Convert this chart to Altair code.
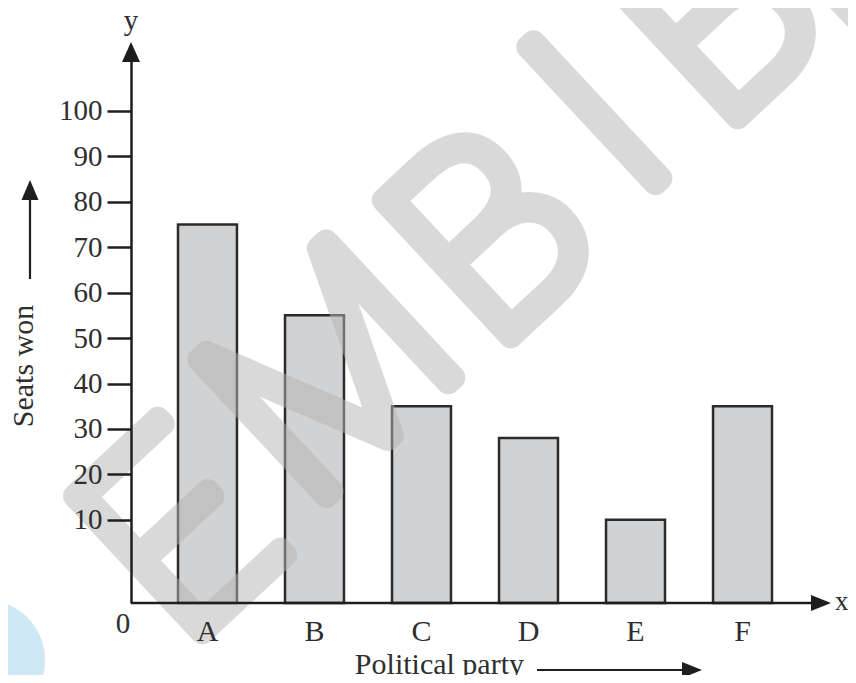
import altair as alt
import pandas as pd

# ---- data ----
parties = ["A", "B", "C", "D", "E", "F"]
seats = [75, 55, 35, 28, 10, 35]
y_ticks = [10, 20, 30, 40, 50, 60, 70, 80, 90, 100]
y_min, y_max = -8.3, 114.5

# watermark letters (decoration only)
wm_letters = ["E", "M", "B", "I", "B", "E"]
wm_x = [53, 205, 365, 473, 592, 705]
wm_y = [496, 334, 197, 78, -22, -120]

df = pd.DataFrame({"party": parties, "seats": seats})
wm = pd.DataFrame({"ch": wm_letters, "px": wm_x, "py": wm_y})
one = pd.DataFrame({"a": [0]})

W, H = 700, 558
FONT = "Liberation Serif"
TXT = "#2e2e2e"
LINE = "#1e1e1e"

xscale = alt.Scale(domain=parties, range=[47, 641], paddingInner=0.449, paddingOuter=0)
yscale = alt.Scale(domain=[y_min, y_max], zero=False, nice=False)

blob = alt.Chart(one).mark_point(
    shape="circle", filled=True, size=14400, color="#cfe8f6", opacity=1, clip=False
).encode(x=alt.value(-146), y=alt.value(615))

bars = alt.Chart(df).mark_bar(
    fill="#d1d2d4", stroke="#2b2b2b", strokeWidth=2.5
).encode(
    x=alt.X("party:N", scale=xscale, sort=parties,
            axis=alt.Axis(title=None, domain=False, ticks=False, tickSize=0, labelAngle=0,
                          labelFont=FONT, labelFontSize=30, labelColor=TXT,
                          labelPadding=13, zindex=1)),
    y=alt.Y("seats:Q", scale=yscale,
            axis=alt.Axis(values=y_ticks, title=None, grid=False,
                          domainColor=LINE, domainWidth=2.5,
                          tickColor=LINE, tickWidth=2.5, tickSize=24,
                          labelFont=FONT, labelFontSize=29, labelColor=TXT,
                          labelPadding=5, zindex=1)),
    y2=alt.datum(y_min),
)

watermark = alt.Chart(wm).mark_text(
    font="Roboto", fontWeight=100, fontSize=262,
    angle=317, align="center", baseline="middle",
    fill="#b4b4b4", stroke="#b4b4b4", strokeWidth=24,
    strokeJoin="round", strokeCap="round", opacity=0.5, clip=False
).encode(
    x=alt.X("px:Q", scale=None),
    y=alt.Y("py:Q", scale=None),
    text="ch:N",
)

x_axis_line = alt.Chart(one).mark_rule(color=LINE, strokeWidth=2.5).encode(
    y=alt.datum(y_min), x=alt.value(0), x2=alt.value(692)
)

x_head = alt.Chart(one).mark_point(
    shape="M-1,-0.8L1,0L-1,0.8Z", filled=True, size=400, color=LINE, opacity=1, clip=False
).encode(x=alt.value(690), y=alt.value(H))

y_head = alt.Chart(one).mark_point(
    shape="M-0.9,1L0,-1L0.9,1Z", filled=True, size=400, color=LINE, opacity=1, clip=False
).encode(x=alt.value(0), y=alt.value(7))

# arrow next to "Seats won"
ys_line = alt.Chart(one).mark_rule(color=LINE, strokeWidth=2.2, clip=False).encode(
    x=alt.value(-101), y=alt.value(234), y2=alt.value(150)
)
ys_head = alt.Chart(one).mark_point(
    shape="M-0.85,1L0,-1L0.85,1Z", filled=True, size=400, color=LINE, opacity=1, clip=False
).encode(x=alt.value(-101), y=alt.value(145))

# arrow after "Political party"
xs_line = alt.Chart(one).mark_rule(color=LINE, strokeWidth=2.2, clip=False).encode(
    y=alt.value(625), x=alt.value(406), x2=alt.value(560)
)
xs_head = alt.Chart(one).mark_point(
    shape="M-1,-0.8L1,0L-1,0.8Z", filled=True, size=400, color=LINE, opacity=1, clip=False
).encode(x=alt.value(561), y=alt.value(625))

def label(txt, x, y, size=30, align="center", baseline="alphabetic", angle=0):
    kw = dict(text=txt, font=FONT, fontSize=size, color=TXT, align=align,
              baseline=baseline, clip=False)
    if angle:
        kw["angle"] = angle
    return alt.Chart(one).mark_text(**kw).encode(x=alt.value(x), y=alt.value(y))

y_lab = label("y", 0, -15, size=29)
x_lab = label("x", 704, 565, size=27, align="left")
zero_lab = label("0", -8, 588, size=29)
y_title = label("Seats won", -107, 321, size=30, baseline="middle", angle=270)
x_title = label("Political party", 393, 629, size=30, align="right")

chart = alt.layer(
    blob, bars, watermark, x_axis_line, x_head, y_head,
    ys_line, ys_head, xs_line, xs_head,
    y_lab, x_lab, zero_lab, y_title, x_title,
).properties(
    width=W, height=H,
    autosize=alt.AutoSizeParams(type="none"),
    padding={"left": 123, "top": 37, "right": 17, "bottom": 72},
).configure_view(stroke=None)

chart.save("out.html", embed_options={"renderer": "svg", "actions": False})
